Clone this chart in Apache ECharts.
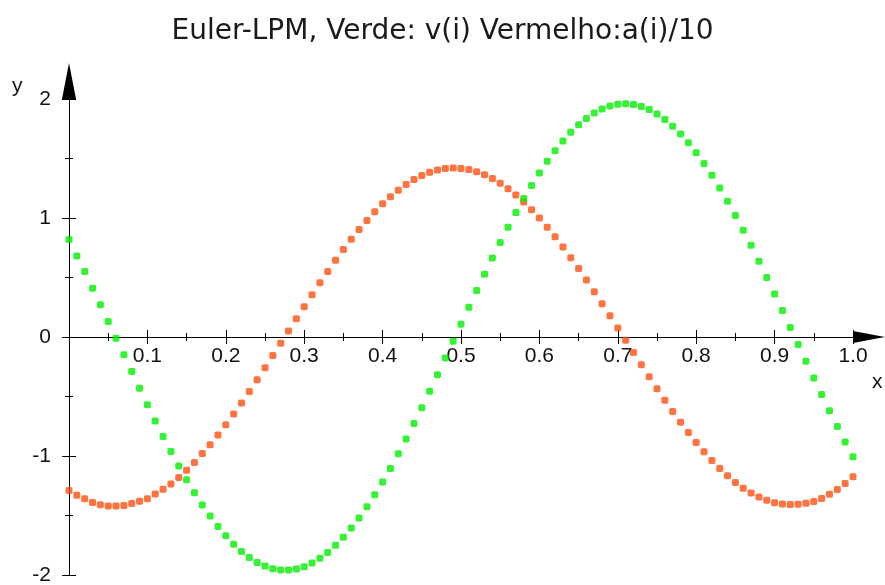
<!DOCTYPE html>
<html>
<head>
<meta charset="utf-8">
<script src="https://cdn.jsdelivr.net/npm/echarts@6/dist/echarts.min.js"></script>
<style>
html,body{margin:0;padding:0;background:#fff;}
#chart{width:885px;height:585px;}
</style>
</head>
<body>
<div id="chart"></div>
<script>
// x positions of the plotted points (t = 0 .. 1 step 0.01)
const xValues = [0.00,0.01,0.02,0.03,0.04,0.05,0.06,0.07,0.08,0.09,
  0.10,0.11,0.12,0.13,0.14,0.15,0.16,0.17,0.18,0.19,
  0.20,0.21,0.22,0.23,0.24,0.25,0.26,0.27,0.28,0.29,
  0.30,0.31,0.32,0.33,0.34,0.35,0.36,0.37,0.38,0.39,
  0.40,0.41,0.42,0.43,0.44,0.45,0.46,0.47,0.48,0.49,
  0.50,0.51,0.52,0.53,0.54,0.55,0.56,0.57,0.58,0.59,
  0.60,0.61,0.62,0.63,0.64,0.65,0.66,0.67,0.68,0.69,
  0.70,0.71,0.72,0.73,0.74,0.75,0.76,0.77,0.78,0.79,
  0.80,0.81,0.82,0.83,0.84,0.85,0.86,0.87,0.88,0.89,
  0.90,0.91,0.92,0.93,0.94,0.95,0.96,0.97,0.98,0.99,1.00];

// Verde: v(i)
const vValues = [0.82,0.68,0.55,0.41,0.27,0.13,-0.01,-0.15,-0.29,-0.43,
  -0.57,-0.705,-0.836,-0.962,-1.084,-1.199,-1.308,-1.411,-1.505,-1.592,
  -1.671,-1.741,-1.802,-1.853,-1.894,-1.925,-1.947,-1.959,-1.959,-1.950,
  -1.930,-1.899,-1.860,-1.810,-1.751,-1.683,-1.606,-1.520,-1.427,-1.326,
  -1.218,-1.104,-0.982,-0.857,-0.727,-0.594,-0.456,-0.317,-0.176,-0.035,
  0.108,0.250,0.390,0.528,0.663,0.795,0.922,1.046,1.163,1.274,
  1.379,1.476,1.565,1.648,1.720,1.783,1.837,1.882,1.916,1.941,
  1.956,1.960,1.954,1.937,1.911,1.874,1.828,1.772,1.706,1.632,
  1.549,1.458,1.359,1.253,1.141,1.022,0.898,0.770,0.637,0.501,
  0.362,0.222,0.080,-0.062,-0.204,-0.345,-0.483,-0.620,-0.753,-0.882,-1.007];

// Vermelho: a(i)/10
const aValues = [-1.29,-1.33,-1.36,-1.39,-1.41,-1.42,-1.42,-1.415,-1.40,-1.38,
  -1.36,-1.32,-1.28,-1.235,-1.18,-1.12,-1.055,-0.98,-0.905,-0.824,
  -0.738,-0.648,-0.554,-0.458,-0.359,-0.258,-0.156,-0.053,0.050,0.153,
  0.255,0.356,0.455,0.551,0.645,0.735,0.821,0.903,0.980,1.053,
  1.119,1.179,1.234,1.282,1.323,1.357,1.384,1.403,1.415,1.420,
  1.417,1.407,1.389,1.364,1.332,1.292,1.246,1.194,1.135,1.070,
  0.999,0.923,0.842,0.756,0.667,0.575,0.479,0.381,0.280,0.178,
  0.076,-0.028,-0.131,-0.233,-0.334,-0.434,-0.531,-0.625,-0.716,-0.803,
  -0.886,-0.964,-1.037,-1.105,-1.167,-1.223,-1.27,-1.31,-1.345,-1.372,
  -1.392,-1.403,-1.408,-1.405,-1.398,-1.383,-1.358,-1.322,-1.282,-1.232,-1.175];

const titleText = 'Euler-LPM, Verde: v(i) Vermelho:a(i)/10';
const xName = 'x';
const yName = 'y';

const chart = echarts.init(document.getElementById('chart'), null, {renderer: 'canvas'});

const pairs = (xs, ys) => xs.map((x, i) => [x, ys[i]]);
const tickFont = 'Liberation Sans Narrow, Arial Narrow, Liberation Sans, Arial, sans-serif';
const black = '#000';

const gridBox = {left: 69, right: 32, top: 99, bottom: 10};
const chartHeight = 585;
const yMin = -2, yMax = 2;
// pixel shift that moves the x axis from the grid bottom up to y = 0
const plotH = chartHeight - gridBox.top - gridBox.bottom;
const xAxisShift = -plotH * (0 - yMin) / (yMax - yMin);

function xAxisCfg(main) {
  return {
    type: 'value', min: 0, max: 1, interval: 0.1,
    position: 'bottom', offset: xAxisShift,
    axisLine: main ? {
      show: true, onZero: false,
      lineStyle: {color: black, width: 1},
      symbol: ['none', 'triangle'], symbolSize: [12, 32], symbolOffset: [0, 16]
    } : {show: false, onZero: false},
    axisTick: {show: true, inside: !main, length: 7, lineStyle: {color: black}},
    minorTick: {show: true, splitNumber: 2, length: 4, lineStyle: {color: black}},
    splitLine: {show: false}, minorSplitLine: {show: false},
    axisLabel: main ? {
      show: true, margin: 9,
      fontFamily: tickFont, fontSize: 21, color: '#111',
      formatter: function (v) { const n = Number(v); return n === 0 ? '' : n.toFixed(1); }
    } : {show: false}
  };
}
function yAxisCfg(main) {
  return {
    type: 'value', min: yMin, max: yMax, interval: 1,
    position: 'left',
    axisLine: main ? {
      show: true, onZero: false,
      lineStyle: {color: black, width: 1},
      symbol: ['none', 'triangle'], symbolSize: [14, 36], symbolOffset: [0, 18]
    } : {show: false, onZero: false},
    axisTick: {show: true, inside: !main, length: 7, lineStyle: {color: black}},
    minorTick: {show: true, splitNumber: 2, length: 4, lineStyle: {color: black}},
    splitLine: {show: false}, minorSplitLine: {show: false},
    axisLabel: main ? {
      show: true, margin: 18,
      fontFamily: tickFont, fontSize: 21, color: '#111',
      formatter: function (v) { return String(Number(v)); }
    } : {show: false}
  };
}

chart.setOption({
  animation: false,
  backgroundColor: '#ffffff',
  title: {
    text: titleText, left: 'center', top: 13,
    textStyle: {fontFamily: 'DejaVu Sans, Verdana, sans-serif', fontSize: 28, fontWeight: 'normal', color: '#1a1a1a'}
  },
  grid: Object.assign({containLabel: false, outerBoundsMode: 'none'}, gridBox),
  xAxis: [xAxisCfg(true), xAxisCfg(false)],
  yAxis: [yAxisCfg(true), yAxisCfg(false)],
  graphic: [
    {type: 'text', left: 12, top: 76, style: {text: yName, fontFamily: tickFont, fontSize: 21, fill: '#111'}},
    {type: 'text', left: 872, top: 372, style: {text: xName, fontFamily: tickFont, fontSize: 21, fill: '#111'}}
  ],
  series: [
    {
      name: 'a(i)/10', type: 'scatter', xAxisIndex: 0, yAxisIndex: 0,
      symbol: 'roundRect', symbolSize: 7,
      itemStyle: {color: '#ff5010'},
      data: pairs(xValues, aValues)
    },
    {
      name: 'v(i)', type: 'scatter', xAxisIndex: 0, yAxisIndex: 0,
      symbol: 'roundRect', symbolSize: 7,
      itemStyle: {color: '#00f000'},
      data: pairs(xValues, vValues)
    }
  ]
});
</script>
</body>
</html>
